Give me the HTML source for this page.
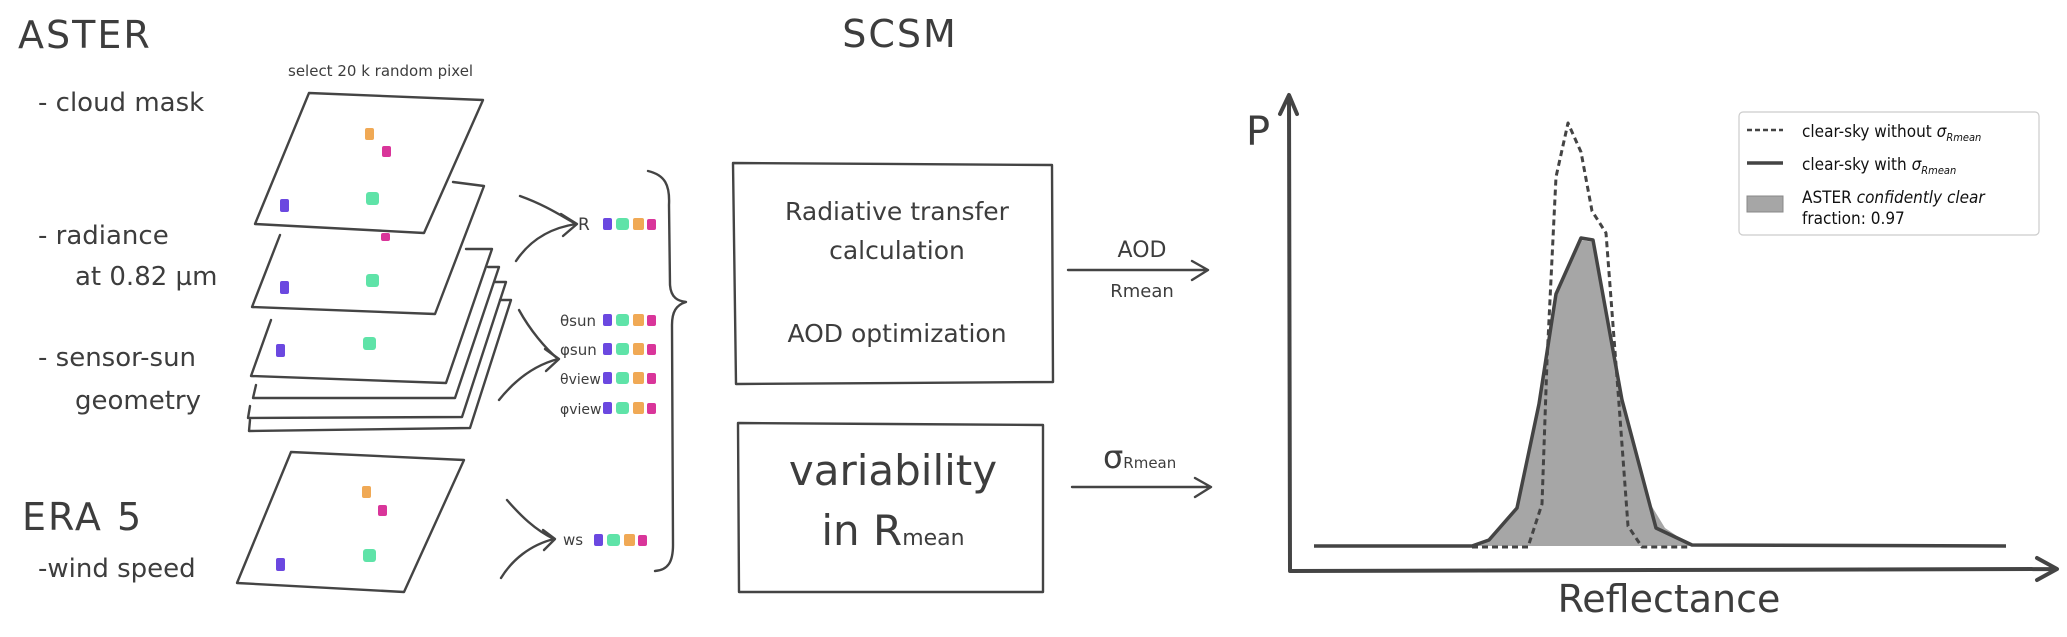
<!DOCTYPE html>
<html><head><meta charset="utf-8"><style>
html,body{margin:0;padding:0;background:#fff;}
svg{display:block;}
text{font-family:"DejaVu Sans","Liberation Sans",sans-serif;fill:#3d3d3d;}
.lg{font-family:"DejaVu Sans Condensed","DejaVu Sans",sans-serif;fill:#111;}
</style></head><body>
<svg width="2067" height="637" viewBox="0 0 2067 637" xmlns="http://www.w3.org/2000/svg">
<defs>
<g id="px4">
<rect x="0" y="0" width="9" height="12" rx="2" fill="#6b48e0"/>
<rect x="13" y="0" width="13" height="12" rx="3" fill="#5fe3a8"/>
<rect x="30" y="0" width="11" height="12" rx="2" fill="#f0a955"/>
<rect x="44" y="1" width="9" height="11" rx="2" fill="#d9359a"/>
</g>
</defs>
<g fill="none" stroke="#444" stroke-width="2.4" stroke-linecap="round" stroke-linejoin="round">
<path d="M500,300 L511,300 L470,428 L249,431 L250,420"/>
<path d="M495,282 L506,282 L462,417 L248,418 L250,406"/>
<path d="M488,267 L499,267 L455,398 L253,398 L256,385"/>
<path d="M466,249 L492,249 L446,383 L251,376 L271,320"/>
<path d="M453,182 L484,186 L435,314 L252,307 L280,235"/>
<path d="M309,93 L483,100 L424,233 L255,224 Z" fill="#fff"/>
<path d="M291,452 L464,460 L404,592 L237,583 Z"/>
<path d="M520,196 C545,205 560,215 576,224"/>
<path d="M516,261 C530,240 550,228 576,224"/>
<path d="M561,214 L577,224 L563,236"/>
<path d="M519,310 C530,330 545,348 558,359"/>
<path d="M499,400 C515,380 535,365 558,359"/>
<path d="M545,349 L559,359 L546,371"/>
<path d="M507,500 C520,515 535,530 554,539"/>
<path d="M501,578 C512,560 530,545 554,539"/>
<path d="M543,530 L555,539 L544,550"/>
<path d="M648,171 C665,175 670,185 669,205 L670,285 C671,298 678,301 686,302 C676,305 672,312 672,325 L673,545 C673,562 668,570 655,571"/>
<path d="M733,163 L1052,165 L1053,382 L736,384 Z"/>
<path d="M738,423 L1043,425 L1043,592 L739,592 Z"/>
<path d="M1068,270 L1207,270 M1192,261 L1208,270 L1192,280"/>
<path d="M1072,487 L1210,487 M1195,478 L1211,487 L1195,497"/>
</g>
<g>
<rect x="365" y="128" width="9" height="12" rx="2" fill="#f0a955"/>
<rect x="382" y="146" width="9" height="11" rx="2" fill="#d9359a"/>
<rect x="366" y="192" width="13" height="13" rx="3" fill="#5fe3a8"/>
<rect x="280" y="199" width="9" height="13" rx="2" fill="#6b48e0"/>
<rect x="381" y="233" width="9" height="8" rx="2" fill="#d9359a"/>
<rect x="280" y="281" width="9" height="13" rx="2" fill="#6b48e0"/>
<rect x="366" y="274" width="13" height="13" rx="3" fill="#5fe3a8"/>
<rect x="276" y="344" width="9" height="13" rx="2" fill="#6b48e0"/>
<rect x="363" y="337" width="13" height="13" rx="3" fill="#5fe3a8"/>
<rect x="362" y="486" width="9" height="12" rx="2" fill="#f0a955"/>
<rect x="378" y="505" width="9" height="11" rx="2" fill="#d9359a"/>
<rect x="363" y="549" width="13" height="13" rx="3" fill="#5fe3a8"/>
<rect x="276" y="558" width="9" height="13" rx="2" fill="#6b48e0"/>
</g>
<use href="#px4" x="603" y="218"/>
<use href="#px4" x="603" y="314"/>
<use href="#px4" x="603" y="343"/>
<use href="#px4" x="603" y="372"/>
<use href="#px4" x="603" y="402"/>
<use href="#px4" x="594" y="534"/>
<text x="18" y="48" font-size="38" letter-spacing="2">ASTER</text>
<text x="288" y="76" font-size="15">select 20 k random pixel</text>
<text x="38" y="111" font-size="26">- cloud mask</text>
<text x="38" y="244" font-size="26">- radiance</text>
<text x="75" y="285" font-size="26">at 0.82 µm</text>
<text x="38" y="366" font-size="26">- sensor-sun</text>
<text x="75" y="409" font-size="26">geometry</text>
<text x="22" y="530" font-size="38" letter-spacing="2">ERA 5</text>
<text x="38" y="577" font-size="26">-wind speed</text>
<text x="578" y="230" font-size="17">R</text>
<text x="560" y="326" font-size="15">θsun</text>
<text x="560" y="355" font-size="15">φsun</text>
<text x="560" y="384" font-size="14">θview</text>
<text x="560" y="414" font-size="14">φview</text>
<text x="563" y="545" font-size="15">ws</text>
<text x="900" y="47" font-size="38" text-anchor="middle" letter-spacing="2">SCSM</text>
<text x="897" y="220" font-size="25" text-anchor="middle">Radiative transfer</text>
<text x="897" y="259" font-size="25" text-anchor="middle">calculation</text>
<text x="897" y="342" font-size="25" text-anchor="middle">AOD optimization</text>
<text x="893" y="485" font-size="42" text-anchor="middle">variability</text>
<text x="893" y="545" font-size="42" text-anchor="middle">in R<tspan font-size="22">mean</tspan></text>
<text x="1142" y="257" font-size="22" text-anchor="middle">AOD</text>
<text x="1142" y="297" font-size="18" text-anchor="middle">Rmean</text>
<text x="1103" y="468" font-size="32">σ<tspan font-size="15">Rmean</tspan></text>
<polygon fill="#a6a6a6" points="1468,546 1489,540 1517,508 1539,404 1556,294 1581,240 1593,242 1622,400 1648,500 1665,528 1692,546"/>
<g fill="none" stroke="#444" stroke-linejoin="round">
<polyline stroke-width="3" stroke-dasharray="6,4" points="1472,547 1528,547 1542,504 1547,361 1556,177 1568,123 1581,152 1592,211 1606,233 1619,404 1628,526 1642,547 1689,547"/>
<polyline stroke-width="3.5" points="1314,546 1472,546 1489,540 1517,508 1539,404 1556,294 1581,238 1593,240 1622,400 1656,528 1692,545 2006,546"/>
<path stroke-width="4" stroke-linecap="round" d="M1289,96 L1290,571 L2056,569 M1280,114 L1289,95 L1297,114 M2037,558 L2057,569 L2037,580"/>
</g>
<text x="1246" y="145" font-size="40">P</text>
<text x="1669" y="612" font-size="38" text-anchor="middle">Reflectance</text>
<rect x="1739" y="112" width="300" height="123" rx="4" fill="#fff" stroke="#ccc" stroke-width="1.2"/>
<line x1="1747" y1="130" x2="1783" y2="130" stroke="#444" stroke-width="2.5" stroke-dasharray="5,3"/>
<line x1="1747" y1="163" x2="1783" y2="163" stroke="#444" stroke-width="3.5"/>
<rect x="1747" y="196" width="36" height="16" fill="#a6a6a6" stroke="#888"/>
<text class="lg" x="1802" y="137" font-size="17">clear-sky without <tspan font-style="italic">σ</tspan><tspan font-size="11" font-style="italic" dy="4">Rmean</tspan></text>
<text class="lg" x="1802" y="170" font-size="17">clear-sky with <tspan font-style="italic">σ</tspan><tspan font-size="11" font-style="italic" dy="4">Rmean</tspan></text>
<text class="lg" x="1802" y="203" font-size="17">ASTER <tspan font-style="italic">confidently clear</tspan></text>
<text class="lg" x="1802" y="224" font-size="17">fraction: 0.97</text>
</svg>
</body></html>
